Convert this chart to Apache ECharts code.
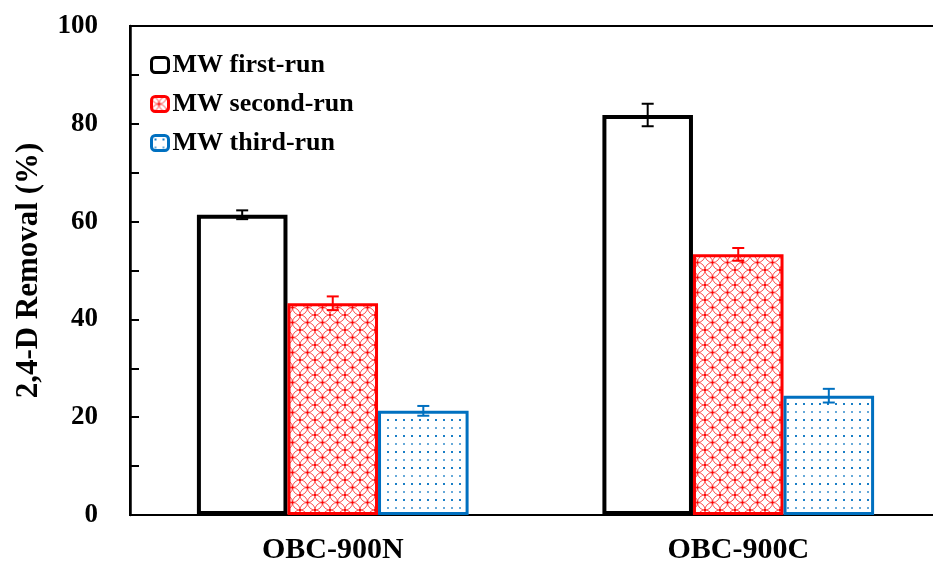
<!DOCTYPE html>
<html>
<head>
<meta charset="utf-8">
<script src="https://cdn.jsdelivr.net/npm/echarts@6/dist/echarts.min.js"></script>
<style>html,body{margin:0;padding:0;background:#fff;overflow:hidden;}#c{width:933px;height:561px;}</style>
</head>
<body>
<div id="c"></div>
<script>
var categories = ['OBC-900N', 'OBC-900C'];
var seriesNames = ['MW first-run', 'MW second-run', 'MW third-run'];
var firstRun = [61.4, 81.8];
var firstErr = [0.9, 2.3];
var secondRun = [43.3, 53.3];
var secondErr = [1.4, 1.3];
var thirdRun = [21.3, 24.4];
var thirdErr = [1.0, 1.4];
var yTicks = [0, 20, 40, 60, 80, 100];

var FONT = "'Liberation Serif','Times New Roman',serif";
var colors = ['#000000', '#FF0000', '#0070C0'];
var CAT_GAP = 0.33;

function redPattern() {
  var s = 15, cv = document.createElement('canvas');
  cv.width = s; cv.height = s;
  var g = cv.getContext('2d');
  g.fillStyle = '#fff'; g.fillRect(0, 0, s, s);
  g.strokeStyle = 'rgba(255,0,0,0.7)'; g.lineWidth = 1;
  var centers = [[s / 2, 0], [0, s / 2], [s, s / 2], [s / 2, s]];
  centers.forEach(function (c) {
    g.beginPath(); g.arc(c[0], c[1], s / 2, 0, Math.PI * 2); g.stroke();
  });
  g.fillStyle = 'rgba(255,0,0,0.9)';
  g.fillRect(s / 2 - 1, s / 2 - 1, 2, 2);
  g.fillRect(0, 0, 1, 1); g.fillRect(s - 1, 0, 1, 1); g.fillRect(0, s - 1, 1, 1); g.fillRect(s - 1, s - 1, 1, 1);
  return cv;
}
function bluePattern() {
  var cv = document.createElement('canvas');
  cv.width = 8; cv.height = 16;
  var g = cv.getContext('2d');
  g.fillStyle = '#fff'; g.fillRect(0, 0, cv.width, cv.height);
  g.fillStyle = 'rgba(0,112,192,0.9)';
  g.fillRect(3, 3, 2, 2);
  g.fillStyle = 'rgba(0,112,192,0.6)';
  g.fillRect(3, 11, 2, 2);
  return cv;
}

var fills = ['#ffffff', { image: redPattern(), repeat: 'repeat' }, { image: bluePattern(), repeat: 'repeat' }];
var borderW = [4, 3, 3];
var values = [firstRun, secondRun, thirdRun];
var errs = [firstErr, secondErr, thirdErr];

function errRender(idx) {
  return function (params, api) {
    var x = api.value(0), v = api.value(1), e = api.value(2);
    var band = api.size([1, 0])[0];
    var bw = band * (1 - CAT_GAP) / 3;
    var c = api.coord([x, v]);
    var cx = c[0] + (idx - 1) * bw;
    var top = api.coord([x, v + e])[1];
    var bot = api.coord([x, v - e])[1];
    var st = { stroke: colors[idx], lineWidth: 2 };
    var hw = 6;
    return {
      type: 'group',
      children: [
        { type: 'line', shape: { x1: cx, y1: top, x2: cx, y2: bot }, style: st },
        { type: 'line', shape: { x1: cx - hw, y1: top, x2: cx + hw, y2: top }, style: st },
        { type: 'line', shape: { x1: cx - hw, y1: bot, x2: cx + hw, y2: bot }, style: st }
      ]
    };
  };
}

var series = [];
for (var i = 0; i < 3; i++) {
  series.push({
    name: seriesNames[i],
    type: 'bar',
    data: values[i],
    barGap: '0%',
    barCategoryGap: (CAT_GAP * 100) + '%',
    itemStyle: { color: fills[i], borderColor: colors[i], borderWidth: borderW[i] },
    emphasis: { disabled: true }
  });
}
for (var j = 0; j < 3; j++) {
  var d = [];
  for (var k = 0; k < categories.length; k++) d.push([k, values[j][k], errs[j][k]]);
  series.push({
    type: 'custom',
    renderItem: errRender(j),
    data: d,
    encode: { x: 0, y: 1 },
    z: 5,
    silent: true
  });
}

var chart = echarts.init(document.getElementById('c'), null, { renderer: 'canvas' });
chart.setOption({
  animation: false,
  backgroundColor: '#fff',
  grid: { left: 130, right: -8, top: 26, bottom: 46, outerBoundsMode: 'none', show: true, borderColor: '#000', borderWidth: 2, backgroundColor: 'transparent' },
  legend: {
    orient: 'vertical', left: 150, top: 52, padding: 0,
    itemWidth: 17, itemHeight: 15, itemGap: 13,
    data: seriesNames.map(function (n, i) {
      return { name: n, itemStyle: { color: i === 0 ? '#fff' : fills[i], borderColor: colors[i], borderWidth: 3 } };
    }),
    textStyle: { fontFamily: FONT, fontWeight: 'bold', fontSize: 26, color: '#000', lineHeight: 26, padding: [0, 0, 0, -1] }
  },
  xAxis: {
    type: 'category', data: categories,
    axisLine: { lineStyle: { color: '#000', width: 2 } },
    axisTick: { show: false },
    axisLabel: { fontFamily: FONT, fontWeight: 'bold', fontSize: 30, color: '#000', margin: 20 }
  },
  yAxis: {
    type: 'value', min: 0, max: 100, interval: 10,
    name: '2,4-D Removal (%)', nameLocation: 'middle', nameGap: 86, nameRotate: 90,
    nameTextStyle: { fontFamily: FONT, fontWeight: 'bold', fontSize: 31, color: '#000' },
    axisLine: { show: true, lineStyle: { color: '#000', width: 2.5 } },
    axisTick: { show: true, inside: true, length: 9, lineStyle: { color: '#000', width: 2 } },
    splitLine: { show: false },
    axisLabel: {
      fontFamily: FONT, fontWeight: 'bold', fontSize: 27, color: '#000', margin: 32,
      formatter: function (v) { return yTicks.indexOf(v) >= 0 ? String(v) : ''; }
    }
  },
  series: series
});
</script>
</body>
</html>
